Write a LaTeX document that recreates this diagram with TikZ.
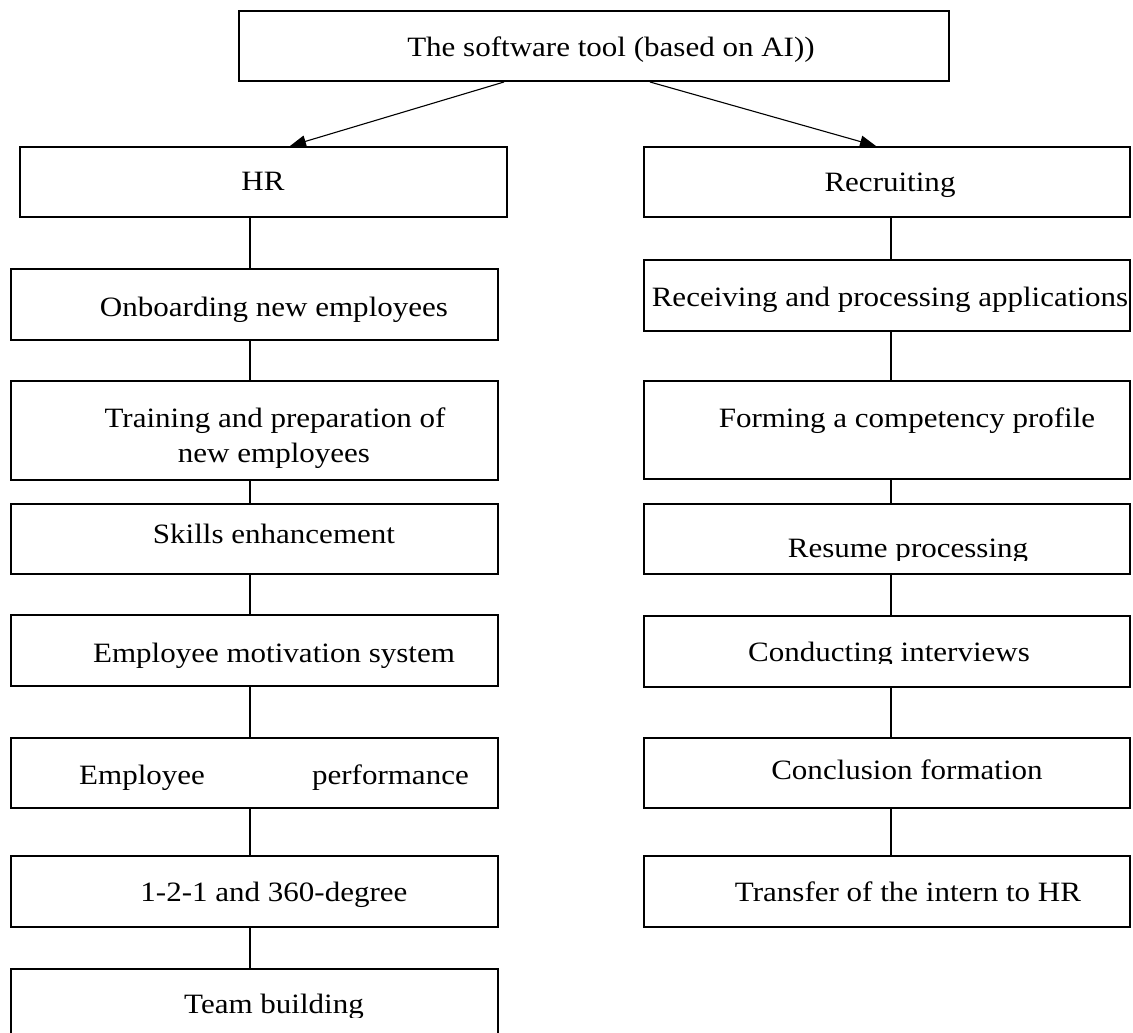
\documentclass[tikz,border=0pt]{standalone}
\usepackage{fontspec}
\setmainfont{Liberation Serif}[FakeStretch=1.108]
\usetikzlibrary{arrows.meta}
\begin{document}
\begin{tikzpicture}[x=1pt,y=-1pt,
  box/.style={draw, line width=2pt, rectangle, inner sep=0pt},
  txt/.style={inner sep=0pt, anchor=base, font=\fontsize{28}{35}\selectfont},
  link/.style={line width=1.1pt},
  arr/.style={line width=1.1pt, -{Triangle[length=16pt,width=12pt]}}]
\useasboundingbox (0,0) rectangle (1133,1033);

% column guides for the vertical links
\coordinate (lc) at (250,0);
\coordinate (rc) at (891,0);

% root
\node[box, minimum width=710pt, minimum height=70pt] (top) at (594,46) {};
\node[txt] (top-t) at (611,57) {The software tool (based on AI))};

% left branch: HR
\node[box, minimum width=487pt, minimum height=70pt] (hr)  at (263.5,182) {};
\node[box, minimum width=487pt, minimum height=71pt] (onb) at (254.5,304.5) {};
\node[box, minimum width=487pt, minimum height=99pt] (trn) at (254.5,430.5) {};
\node[box, minimum width=487pt, minimum height=70pt] (skl) at (254.5,539) {};
\node[box, minimum width=487pt, minimum height=71pt] (mot) at (254.5,650.5) {};
\node[box, minimum width=487pt, minimum height=70pt] (prf) at (254.5,773) {};
\node[box, minimum width=487pt, minimum height=71pt] (one) at (254.5,891.5) {};
% the last box runs past the lower page edge
\node[box, minimum width=487pt, minimum height=80pt] (tea) at (254.5,1009) {};

\node[txt] (hr-t)   at (263,190) {HR};
\node[txt] (onb-t)  at (274,316) {Onboarding new employees};
\node[txt] (trn-t1) at (275,427) {Training and preparation of};
\node[txt] (trn-t2) at (274,462) {new employees};
\node[txt] (skl-t)  at (274,543) {Skills enhancement};
\begin{scope}
  \clip (11,615) rectangle (498,667);
  \node[txt] (mot-t) at (274,662) {Employee motivation system};
\end{scope}
\node[txt, anchor=base west] (prf-t1) at (79,784) {Employee};
\node[txt, anchor=base east] (prf-t2) at (469,784) {performance};
\begin{scope}
  \clip (11,856) rectangle (498,907);
  \node[txt] (one-t) at (274,901) {1-2-1 and 360-degree};
\end{scope}
\begin{scope}
  \clip (11,969) rectangle (498,1017);
  \node[txt] (tea-t) at (274,1013) {Team building};
\end{scope}

% right branch: Recruiting
\node[box, minimum width=486pt, minimum height=70pt] (rec) at (887,182) {};
\node[box, minimum width=486pt, minimum height=71pt] (rcv) at (887,295.5) {};
\node[box, minimum width=486pt, minimum height=98pt] (frm) at (887,430) {};
\node[box, minimum width=486pt, minimum height=70pt] (res) at (887,539) {};
\node[box, minimum width=486pt, minimum height=71pt] (cnd) at (887,651.5) {};
\node[box, minimum width=486pt, minimum height=70pt] (ccl) at (887,773) {};
\node[box, minimum width=486pt, minimum height=71pt] (trf) at (887,891.5) {};

\node[txt] (rec-t) at (890,191) {Recruiting};
\begin{scope}
  \clip (644,260) rectangle (1130,312);
  \node[txt] (rcv-t) at (890,306) {Receiving and processing applications};
\end{scope}
\node[txt] (frm-t) at (907,427) {Forming a competency profile};
\begin{scope}
  \clip (644,504) rectangle (1130,560);
  \node[txt] (res-t) at (908,557) {Resume processing};
\end{scope}
\begin{scope}
  \clip (644,616) rectangle (1130,663);
  \node[txt] (cnd-t) at (889,661) {Conducting interviews};
\end{scope}
\node[txt] (ccl-t) at (907,779) {Conclusion formation};
\node[txt] (trf-t) at (908,901) {Transfer of the intern to HR};

% arrows from the root
\draw[arr] ([xshift=-90pt]top.south) -- ([xshift=26.5pt]hr.north);
\draw[arr] ([xshift=56pt]top.south) -- ([xshift=-11pt]rec.north);

% vertical links, left
\draw[link] (hr.south -| lc)  -- (onb.north -| lc);
\draw[link] (onb.south -| lc) -- (trn.north -| lc);
\draw[link] (trn.south -| lc) -- (skl.north -| lc);
\draw[link] (skl.south -| lc) -- (mot.north -| lc);
\draw[link] (mot.south -| lc) -- (prf.north -| lc);
\draw[link] (prf.south -| lc) -- (one.north -| lc);
\draw[link] (one.south -| lc) -- (tea.north -| lc);

% vertical links, right
\draw[link] (rec.south -| rc) -- (rcv.north -| rc);
\draw[link] (rcv.south -| rc) -- (frm.north -| rc);
\draw[link] (frm.south -| rc) -- (res.north -| rc);
\draw[link] (res.south -| rc) -- (cnd.north -| rc);
\draw[link] (cnd.south -| rc) -- (ccl.north -| rc);
\draw[link] (ccl.south -| rc) -- (trf.north -| rc);
\end{tikzpicture}
\end{document}
